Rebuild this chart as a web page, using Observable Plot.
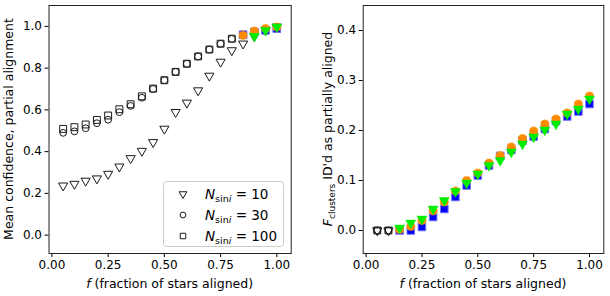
<!DOCTYPE html>
<html><head><meta charset="utf-8">
<script src="https://cdn.jsdelivr.net/npm/d3@7"></script>
<script src="https://cdn.jsdelivr.net/npm/@observablehq/plot@0.6"></script>
<style>
body{margin:0;background:#fff;}
#wrap{position:relative;width:610px;height:296px;overflow:hidden;font-family:"DejaVu Sans",sans-serif;}
#wrap > svg{position:absolute;top:0;}
</style></head><body><div id="wrap"></div>
<script>
// ---- data ----
const fAligned = [0.05,0.10,0.15,0.20,0.25,0.30,0.35,0.40,0.45,0.50,0.55,0.60,0.65,0.70,0.75,0.80,0.85,0.90,0.95,1.00];
// left: mean confidence, partial alignment
const confN10  = [0.237,0.245,0.260,0.271,0.293,0.328,0.368,0.403,0.445,0.509,0.589,0.634,0.693,0.763,0.830,0.885,0.917,0.953,0.981,0.998];
const confN30  = [0.490,0.497,0.512,0.536,0.553,0.589,0.619,0.658,0.700,0.742,0.782,0.821,0.856,0.889,0.917,0.940,0.957,0.977,0.989,0.997];
const confN100 = [0.509,0.517,0.530,0.552,0.573,0.603,0.627,0.665,0.702,0.742,0.782,0.821,0.856,0.889,0.917,0.941,0.960,0.973,0.981,0.989];
// right: fraction of clusters identified as partially aligned
const fracN10  = [0,0,0.005,0.015,0.023,0.043,0.060,0.078,0.095,0.113,0.130,0.140,0.157,0.173,0.187,0.201,0.213,0.233,0.243,0.263];
const fracN30  = [0,0,0.002,0.008,0.020,0.039,0.057,0.079,0.100,0.115,0.135,0.150,0.167,0.184,0.199,0.213,0.223,0.235,0.253,0.269];
const fracN100 = [0,0,0,0,0.007,0.027,0.043,0.067,0.090,0.110,0.130,0.149,0.161,0.180,0.188,0.203,0.219,0.228,0.238,0.253];
const seriesLabels = ["10","30","100"];
const xTicks = [0,0.25,0.5,0.75,1.0];
const leftYTicks = [0,0.2,0.4,0.6,0.8,1.0];
const rightYTicks = [0,0.1,0.2,0.3,0.4];
const confThreshold = 0.95;   // highlighted (coloured) when confidence above this
const rightColouredFrom = 0.15;

// ---- helpers ----
const sqrt3 = Math.sqrt(3);
const triangleDown = {draw(ctx, size){
  const y = Math.sqrt(size/(sqrt3*3));
  ctx.moveTo(0, 2*y); ctx.lineTo(sqrt3*y, -y); ctx.lineTo(-sqrt3*y, -y); ctx.closePath();
}};
const rows = ys => fAligned.map((f,i)=>({f, v: ys[i]}));
const blue = "#0000ff", orange = "#ff8c00", green = "#00ee00";
const ns = "http://www.w3.org/2000/svg";
const commonX = {domain:[-0.013,1.064], ticks:xTicks, tickFormat:d3.format(".2f"), label:null, tickSize:4, tickPadding:3};
const style = {fontFamily:"DejaVu Sans", fontSize:"12px", color:"#000", background:"transparent", overflow:"visible"};

function hollow(data, sym, r){
  return Plot.dot(data, {x:"f", y:"v", symbol:sym, r, stroke:"#1a1a1a", fill:"none", strokeWidth:1});
}
function colouredMarks(d10, d30, d100){
  return [
    Plot.dot(d100, {x:"f", y:"v", symbol:"square", r:4.3, fill:blue, stroke:"#7777ff", strokeWidth:1}),
    Plot.dot(d30, {x:"f", y:"v", symbol:"circle", r:4.1, fill:orange, stroke:orange, strokeWidth:0.5}),
    Plot.dot(d10, {x:"f", y:"v", symbol:triangleDown, r:3.7, fill:green, stroke:green, strokeWidth:0.5})
  ];
}

// ---- left panel ----
const L10 = rows(confN10), L30 = rows(confN30), L100 = rows(confN100);
const hi = d => d.filter(p => p.v > confThreshold);
const left = Plot.plot({
  width:300, height:296, marginLeft:48.5, marginRight:9.3, marginTop:5, marginBottom:43,
  x: commonX,
  y: {domain:[-0.088,1.1], ticks:leftYTicks, tickFormat:d3.format(".1f"), label:null, tickSize:4, tickPadding:3},
  style,
  marks:[
    hollow(L10, triangleDown, 3.4),
    hollow(L30, "circle", 3.4),
    hollow(L100, "square", 3.9),
    ...colouredMarks(hi(L10), hi(L30), hi(L100)),
    Plot.frame({stroke:"#222", strokeWidth:1})
  ]
});
left.style.left = "0px";

// ---- right panel ----
const R10 = rows(fracN10), R30 = rows(fracN30), R100 = rows(fracN100);
const lo = d => d.filter(p => p.f < rightColouredFrom - 1e-9);
const up = d => d.filter(p => p.f >= rightColouredFrom - 1e-9);
const right = Plot.plot({
  width:300, height:296, marginLeft:52.7, marginRight:6.7, marginTop:5, marginBottom:43,
  x: commonX,
  y: {domain:[-0.046,0.45], ticks:rightYTicks, tickFormat:d3.format(".1f"), label:null, tickSize:4, tickPadding:3},
  style,
  marks:[
    hollow(lo(R10), triangleDown, 3.4),
    hollow(lo(R30), "circle", 3.4),
    hollow(lo(R100), "square", 3.9),
    ...colouredMarks(up(R10), up(R30), up(R100)),
    Plot.frame({stroke:"#222", strokeWidth:1})
  ]
});
right.style.left = "310px";

const wrap = document.getElementById("wrap");
wrap.append(left, right);

// ---- labels ----
function addText(svg, attrs, parts){
  const t = document.createElementNS(ns, "text");
  t.setAttribute("text-anchor", "start");
  for (const k in attrs) t.setAttribute(k, attrs[k]);
  t.setAttribute("font-family", "DejaVu Sans");
  t.setAttribute("fill", "#000");
  for (const p of parts){
    const s = document.createElementNS(ns, "tspan");
    s.textContent = p.t;
    if (p.italic) s.setAttribute("font-style", "italic");
    if (p.size) s.setAttribute("font-size", p.size);
    if (p.dy) s.setAttribute("dy", p.dy);
    t.appendChild(s);
  }
  svg.appendChild(t);
  return t;
}
const xlab = [{t:"f", italic:true}, {t:" (fraction of stars aligned)"}];
addText(left, {x:169.6, y:287.5, "text-anchor":"middle", "font-size":"12.5px"}, xlab);
addText(right, {x:173, y:287.5, "text-anchor":"middle", "font-size":"12.5px"}, xlab);
addText(left, {transform:"translate(12.5,129) rotate(-90)", "text-anchor":"middle", "font-size":"12.5px"},
  [{t:"Mean confidence, partial alignment"}]);
addText(right, {transform:"translate(22,129) rotate(-90)", "text-anchor":"middle", "font-size":"12.5px"},
  [{t:"F", italic:true}, {t:"clusters", size:"9px", dy:"3"}, {t:" ID'd as partially aligned", dy:"-3"}]);

// ---- legend (left panel) ----
const lg = d3.select(left).append("g");
lg.append("rect").attr("x",163.5).attr("y",181.5).attr("width",120).attr("height",65).attr("rx",3)
  .attr("fill","#fff").attr("fill-opacity",0.8).attr("stroke","#cccccc");
const legendSyms = [triangleDown, d3.symbolCircle, d3.symbolSquare];
const legendSizes = [26, 26, 30];
seriesLabels.forEach((lab, i) => {
  const cy = 194 + i*21;
  lg.append("path").attr("d", d3.symbol(legendSyms[i], legendSizes[i])()).attr("transform", `translate(183,${cy})`)
    .attr("fill","none").attr("stroke","#1a1a1a").attr("stroke-width",1);
  addText(lg.node(), {x:205, y:cy+5, "font-size":"13.5px"},
    [{t:"N", italic:true}, {t:"sin", size:"9.5px", dy:"3"}, {t:"i", italic:true, size:"9.5px"}, {t:" = " + lab, dy:"-3"}]);
});
</script></body></html>
